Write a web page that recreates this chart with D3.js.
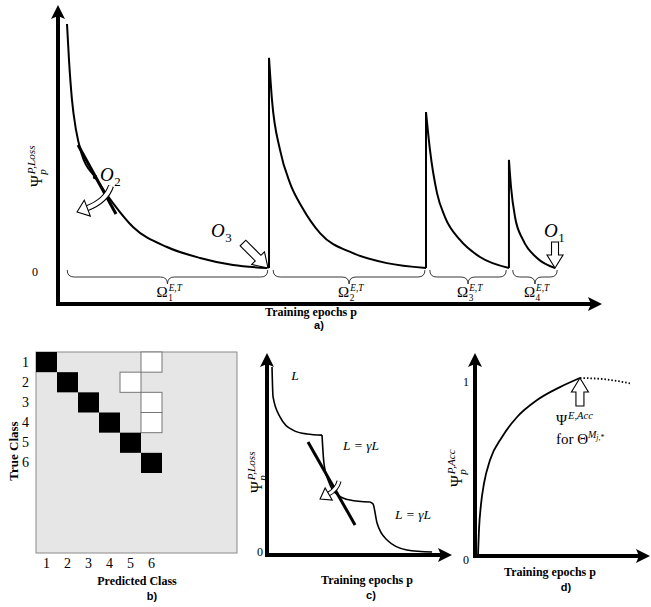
<!DOCTYPE html>
<html><head><meta charset="utf-8">
<script src="https://cdn.jsdelivr.net/npm/d3@7"></script>
<style>
body { margin: 0; background: #fff; }
text { font-family: "Liberation Serif", serif; fill: #000; }
.sans { font-family: "Liberation Sans", Arial, sans-serif; }
</style></head>
<body><svg id="fig" width="651" height="607"></svg>
<script>
// a) loss per warm restart cycle, [epoch, loss]
const cycle1 = [[1.66,1.0],[2.03,0.852],[2.58,0.689],[3.32,0.566],[4.43,0.463],[6.83,0.373],[10.15,0.266],[13.84,0.168],[20.11,0.086],[26.2,0.041],[32.29,0.012],[38.56,0]];
const cycle2 = [[38.93,0.861],[39.48,0.689],[40.96,0.484],[42.8,0.348],[45.0,0.25],[48.34,0.143],[54.43,0.061],[60.7,0.02],[67.9,0]];
const cycle3 = [[67.9,0.639],[68.63,0.484],[69.93,0.307],[71.4,0.209],[74.17,0.115],[77.86,0.045],[83.2,0]];
const cycle4 = [[83.2,0.443],[83.58,0.332],[84.32,0.209],[85.8,0.115],[88.38,0.041],[91.7,0]];
const braceSpans = [[1.7,38.7],[39.7,67.7],[68.6,82.7],[83.9,92.1]];
const braceIdx = ['1','2','3','4'];
const tangentA = [[3.7,0.504],[10.7,0.221]];
const dotA = [6.83,0.373];

// b) confusion matrix, [true, predicted]
const classes = [1,2,3,4,5,6];
const correct = classes.map(c => [c, c]);
const confused = [[1,6],[2,5],[3,6],[4,6]];

// c) step decay loss
const step1 = [[2.9,1.0],[3.5,0.838],[7.5,0.73],[15.0,0.659],[23.1,0.638],[31.8,0.632]];
const step2 = [[31.8,0.632],[32.9,0.481],[35.3,0.389],[41.0,0.308],[48.0,0.281],[59.5,0.27]];
const step3 = [[59.5,0.27],[61.3,0.259],[63.6,0.157],[69.4,0.065],[80.9,0.011],[95.4,0]];
const tangentC = [[23.7,0.595],[50.9,0.146]];
const stepLabels = [[14,0.93,'L'],[44,0.55,'L = γL'],[74,0.18,'L = γL']];

// d) accuracy
const accCurve = [[1.8,0],[2.4,0.146],[3.6,0.287],[5.5,0.41],[9.1,0.539],[16.4,0.669],[25.5,0.781],[37.6,0.876],[51.5,0.949],[63.6,1.0]];
const accTail = [[63.6,1.0],[77.6,0.994],[93.9,0.97]];

const svg = d3.select('#fig');

const xA = d3.scaleLinear().domain([0, 100]).range([58, 600]);
const yA = d3.scaleLinear().domain([0, 1]).range([268, 24]);
const xB = d3.scaleBand().domain(classes).range([36, 162]);
const yB = d3.scaleBand().domain(classes).range([352, 473]);
const xC = d3.scaleLinear().domain([0, 100]).range([267, 440]);
const yC = d3.scaleLinear().domain([0, 1]).range([552, 367]);
const xD = d3.scaleLinear().domain([0, 100]).range([475, 640]);
const yD = d3.scaleLinear().domain([0, 1]).range([556, 378]);

function arrowAxis(x0, y0, x1, y1) {
  const dx = x1 - x0, dy = y1 - y0, len = Math.hypot(dx, dy);
  const ux = dx / len, uy = dy / len, hl = 14, hw = 7;
  svg.append('line').attr('x1', x0).attr('y1', y0)
    .attr('x2', x1 - ux * hl * 0.6).attr('y2', y1 - uy * hl * 0.6)
    .attr('stroke', '#000').attr('stroke-width', 4);
  const bx = x1 - ux * hl, by = y1 - uy * hl;
  svg.append('path')
    .attr('d', `M${x1},${y1}L${bx - uy * hw},${by + ux * hw}L${bx + ux * 3},${by + uy * 3}L${bx + uy * hw},${by - ux * hw}Z`)
    .attr('fill', '#000');
}

function script(g, x, y, base, sup, sub, o = {}) {
  const size = o.size || 14, small = size * (o.ratio || 0.7);
  const t = g.append('text').attr('x', x).attr('y', y).attr('font-size', size)
    .attr('font-style', o.italic ? 'italic' : null).text(base);
  const w = t.node().getComputedTextLength();
  if (sup) g.append('text').attr('x', x + w + 1).attr('y', y - size * 0.42)
    .attr('font-size', small).attr('font-style', 'italic').text(sup);
  if (sub) g.append('text').attr('x', x + w + 0.5).attr('y', y + size * 0.25)
    .attr('font-size', small).attr('font-style', o.subUpright ? null : 'italic').text(sub);
}

function blockArrow(tip, tail, shaftW, headW, headL) {
  const dx = tip[0] - tail[0], dy = tip[1] - tail[1], len = Math.hypot(dx, dy);
  const ux = dx / len, uy = dy / len, px = -uy, py = ux;
  const b = [tip[0] - ux * headL, tip[1] - uy * headL];
  const pts = [
    [tail[0] + px * shaftW / 2, tail[1] + py * shaftW / 2],
    [b[0] + px * shaftW / 2, b[1] + py * shaftW / 2],
    [b[0] + px * headW / 2, b[1] + py * headW / 2],
    tip,
    [b[0] - px * headW / 2, b[1] - py * headW / 2],
    [b[0] - px * shaftW / 2, b[1] - py * shaftW / 2],
    [tail[0] - px * shaftW / 2, tail[1] - py * shaftW / 2]];
  svg.append('path').attr('d', 'M' + pts.join('L') + 'Z')
    .attr('fill', '#fff').attr('stroke', '#000').attr('stroke-width', 1.1);
}

function curvedArrow(start, ctrl, tip, headW, headL, shaftW) {
  const dx = tip[0] - ctrl[0], dy = tip[1] - ctrl[1], len = Math.hypot(dx, dy);
  const ux = dx / len, uy = dy / len, px = -uy, py = ux;
  const b = [tip[0] - ux * headL, tip[1] - uy * headL];
  const d = `M${start}Q${ctrl} ${b}`;
  svg.append('path').attr('d', d).attr('fill', 'none').attr('stroke', '#000').attr('stroke-width', shaftW + 2);
  svg.append('path').attr('d', d).attr('fill', 'none').attr('stroke', '#fff').attr('stroke-width', shaftW);
  svg.append('path')
    .attr('d', `M${tip}L${b[0] + px * headW / 2},${b[1] + py * headW / 2}L${b[0] - px * headW / 2},${b[1] - py * headW / 2}Z`)
    .attr('fill', '#fff').attr('stroke', '#000').attr('stroke-width', 1.1);
}

const smooth = (x, y) => d3.line().x(d => x(d[0])).y(d => y(d[1])).curve(d3.curveMonotoneX);
const straight = (x, y) => d3.line().x(d => x(d[0])).y(d => y(d[1]));
const tick0 = g => g.call(g => g.select('.domain').remove())
  .call(g => g.selectAll('text').attr('font-size', 12).attr('font-family', '"Liberation Sans", Arial, sans-serif'));

// ---------- a) ----------
const lossA = smooth(xA, yA);
const cycles = [cycle1, cycle2, cycle3, cycle4];
svg.append('g').selectAll('path').data(cycles).join('path')
  .attr('d', lossA).attr('fill', 'none').attr('stroke', '#000').attr('stroke-width', 2);
// jumps at each restart
svg.append('g').selectAll('line').data(cycles.slice(1)).join('line')
  .attr('x1', d => xA(d[0][0])).attr('x2', d => xA(d[0][0]))
  .attr('y1', yA(0)).attr('y2', d => yA(d[0][1]))
  .attr('stroke', '#000').attr('stroke-width', 2);

// braces
const braceY = yA(0) + 2, q = 7;
svg.append('g').selectAll('path').data(braceSpans).join('path')
  .attr('d', ([a, b]) => {
    const x0 = xA(a), x1 = xA(b), m = (x0 + x1) / 2, y = braceY;
    return `M${x0},${y}Q${x0},${y + q} ${x0 + q},${y + q}L${m - q},${y + q}Q${m},${y + q} ${m},${y + 2 * q}` +
      `Q${m},${y + q} ${m + q},${y + q}L${x1 - q},${y + q}Q${x1},${y + q} ${x1},${y}`;
  })
  .attr('fill', 'none').attr('stroke', '#222').attr('stroke-width', 0.9);
braceSpans.forEach(([a, b], i) => {
  const m = xA((a + b) / 2);
  script(svg, m - 11, braceY + 27, 'Ω', 'E,T', braceIdx[i], {size: 15, ratio: 0.62, subUpright: true});
});

svg.append('path').attr('d', straight(xA, yA)(tangentA)).attr('stroke', '#000').attr('stroke-width', 3);
svg.append('circle').attr('cx', xA(dotA[0])).attr('cy', yA(dotA[1])).attr('r', 2.2).attr('fill', '#000');
{
  const [dx, dy] = [xA(dotA[0]), yA(dotA[1])];
  curvedArrow([dx + 16, dy + 9], [dx + 11, dy + 24], [dx - 18, dy + 35], 17, 11, 4);
  script(svg, dx + 5, dy + 4, 'O', null, '2', {size: 19, italic: true, ratio: 0.68, subUpright: true});
}
{
  const e1 = cycle1[cycle1.length - 1];
  const tip = [xA(e1[0]) + 1, yA(e1[1])];
  blockArrow(tip, [tip[0] - 25, tip[1] - 25], 8, 18, 14);
  script(svg, tip[0] - 57, tip[1] - 31, 'O', null, '3', {size: 19, italic: true, ratio: 0.68, subUpright: true});
  const e4 = cycle4[cycle4.length - 1];
  const tip4 = [xA(e4[0]), yA(e4[1])];
  blockArrow(tip4, [tip4[0], tip4[1] - 26], 7, 16, 13);
  script(svg, tip4[0] - 11, tip4[1] - 31, 'O', null, '1', {size: 19, italic: true, ratio: 0.68, subUpright: true});
}

arrowAxis(58, 304, 58, 5);
arrowAxis(56, 304, 602, 304);
svg.append('g').attr('transform', 'translate(38,4)')
  .call(d3.axisLeft(yA).tickValues([0]).tickFormat(d3.format('d')).tickSize(0).tickPadding(0))
  .call(tick0);
script(svg.append('g').attr('transform', 'translate(42,187) rotate(-90)'), 0, 0, 'Ψ', 'P,Loss', 'p', {size: 16});
svg.append('text').attr('x', 311).attr('y', 316).attr('text-anchor', 'middle')
  .attr('font-size', 12).attr('font-weight', 'bold').text('Training epochs p');
svg.append('text').attr('class', 'sans').attr('x', 319).attr('y', 329).attr('text-anchor', 'middle')
  .attr('font-size', 11).attr('font-weight', 'bold').text('a)');

// ---------- b) ----------
svg.append('rect').attr('x', 36).attr('y', 352).attr('width', 201).attr('height', 201)
  .attr('fill', '#e6e6e6').attr('stroke', '#8a8a8a').attr('stroke-width', 1);
svg.append('g').selectAll('rect').data(confused).join('rect')
  .attr('x', d => xB(d[1])).attr('y', d => yB(d[0]))
  .attr('width', xB.bandwidth()).attr('height', yB.bandwidth())
  .attr('fill', '#fff').attr('stroke', '#777').attr('stroke-width', 1);
svg.append('g').selectAll('rect').data(correct).join('rect')
  .attr('x', d => xB(d[1])).attr('y', d => yB(d[0]))
  .attr('width', xB.bandwidth()).attr('height', yB.bandwidth())
  .attr('fill', '#000');
svg.append('g').attr('transform', 'translate(0,558)')
  .call(d3.axisBottom(xB).tickSize(0).tickPadding(0))
  .call(g => g.select('.domain').remove())
  .call(g => g.selectAll('text').attr('font-size', 14).attr('font-family', '"Liberation Serif", serif'));
svg.append('g').attr('transform', 'translate(29,0)')
  .call(d3.axisLeft(yB).tickSize(0).tickPadding(0))
  .call(g => g.select('.domain').remove())
  .call(g => g.selectAll('text').attr('font-size', 14).attr('font-family', '"Liberation Serif", serif'));
svg.append('text').attr('transform', 'translate(18,451) rotate(-90)').attr('text-anchor', 'middle')
  .attr('font-size', 13).attr('font-weight', 'bold').text('True Class');
svg.append('text').attr('x', 137).attr('y', 585).attr('text-anchor', 'middle')
  .attr('font-size', 12).attr('font-weight', 'bold').text('Predicted Class');
svg.append('text').attr('class', 'sans').attr('x', 152).attr('y', 600).attr('text-anchor', 'middle')
  .attr('font-size', 11).attr('font-weight', 'bold').text('b)');

// ---------- c) ----------
svg.append('g').selectAll('path').data([step1, step2, step3]).join('path')
  .attr('d', smooth(xC, yC)).attr('fill', 'none').attr('stroke', '#000').attr('stroke-width', 1.6);
svg.append('path').attr('d', straight(xC, yC)(tangentC)).attr('stroke', '#000').attr('stroke-width', 3);
{
  const ax = xC(step2[2][0]), ay = yC(step2[2][1]);
  curvedArrow([ax + 11, ay + 1], [ax + 9, ay + 9], [ax - 8, ay + 19], 14, 10, 3);
}
svg.append('g').selectAll('text').data(stepLabels).join('text')
  .attr('x', d => xC(d[0])).attr('y', d => yC(d[1]))
  .attr('font-size', 13.5).attr('font-style', 'italic').text(d => d[2]);
arrowAxis(267, 557, 267, 353);
arrowAxis(265, 555, 452, 555);
svg.append('g').attr('transform', 'translate(263,0)')
  .call(d3.axisLeft(yC).tickValues([0]).tickFormat(d3.format('d')).tickSize(0).tickPadding(0))
  .call(tick0);
script(svg.append('g').attr('transform', 'translate(262,493) rotate(-90)'), 0, 0, 'Ψ', 'P,Loss', 'p', {size: 16});
svg.append('text').attr('x', 367).attr('y', 584).attr('text-anchor', 'middle')
  .attr('font-size', 12).attr('font-weight', 'bold').text('Training epochs p');
svg.append('text').attr('class', 'sans').attr('x', 371).attr('y', 599).attr('text-anchor', 'middle')
  .attr('font-size', 11).attr('font-weight', 'bold').text('c)');

// ---------- d) ----------
svg.append('path').attr('d', smooth(xD, yD)(accCurve)).attr('fill', 'none').attr('stroke', '#000').attr('stroke-width', 1.8);
svg.append('path').attr('d', smooth(xD, yD)(accTail)).attr('fill', 'none').attr('stroke', '#000')
  .attr('stroke-width', 1.8).attr('stroke-dasharray', '1.5,2');
{
  const peak = accCurve[accCurve.length - 1];
  const tip = [xD(peak[0]), yD(peak[1])];
  blockArrow(tip, [tip[0], tip[1] + 28], 8, 17, 14);
  script(svg, tip[0] - 24, tip[1] + 47, 'Ψ', 'E,Acc', null, {size: 15});
  const t = svg.append('text').attr('x', tip[0] - 24).attr('y', tip[1] + 66).attr('font-size', 15);
  t.append('tspan').text('for Θ');
  t.append('tspan').attr('dy', -6).attr('font-size', 10).attr('font-style', 'italic').text('M');
  t.append('tspan').attr('dy', 2).attr('font-size', 7.5).attr('font-style', 'italic').text('j,*');
}
arrowAxis(475, 558, 475, 353);
arrowAxis(473, 556, 650, 556);
svg.append('g').attr('transform', 'translate(469,4)')
  .call(d3.axisLeft(yD).tickValues([0, 1]).tickFormat(d3.format('d')).tickSize(0).tickPadding(0))
  .call(tick0);
script(svg.append('g').attr('transform', 'translate(462,487) rotate(-90)'), 0, 0, 'Ψ', 'P,Acc', 'p', {size: 16});
svg.append('text').attr('x', 550).attr('y', 576).attr('text-anchor', 'middle')
  .attr('font-size', 12).attr('font-weight', 'bold').text('Training epochs p');
svg.append('text').attr('class', 'sans').attr('x', 566).attr('y', 591).attr('text-anchor', 'middle')
  .attr('font-size', 11).attr('font-weight', 'bold').text('d)');
</script></body></html>
